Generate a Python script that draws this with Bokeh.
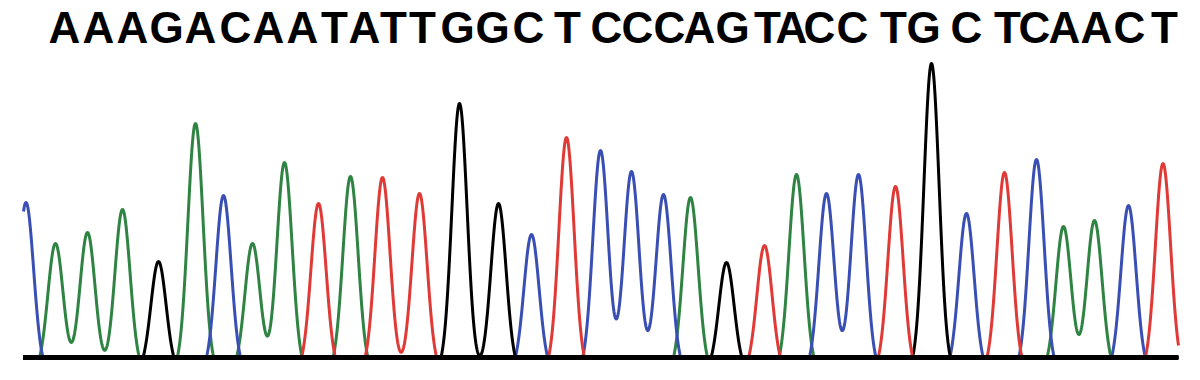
import numpy as np
from bokeh.plotting import figure
from bokeh.embed import file_html
from bokeh.resources import INLINE
from bokeh.core.properties import value

# ---- data: base calls (letters) and their positions along the read ----
calls = list("AAAGACAATATTGGCTCCCAGTACCTGCTCAACT")
call_pos = [64, 98, 132, 166, 200, 235, 268, 302, 334, 364, 393,
            422, 457, 492, 528, 567, 606, 637, 669, 699, 732, 767,
            791, 819, 852, 893, 923, 966, 1007, 1034, 1064, 1096, 1129, 1164]

# ---- data: chromatogram peaks per dye channel (position, height) ----
peak_A_pos = [55, 87, 122, 195, 252, 284, 350, 690, 796, 1063, 1094]
peak_A_h   = [114, 125, 148, 234, 114, 195, 181, 160, 183, 131, 137]

peak_C_pos = [25.5, 223, 531, 600, 631, 663, 826, 858, 966, 1036, 1128]
peak_C_h   = [155, 162, 123, 207, 186, 163, 164, 183, 144, 198, 152]

peak_G_pos = [158, 459, 498, 726, 931]
peak_G_h   = [96, 254, 154, 95, 294]

peak_T_pos = [318, 382, 419, 566, 764, 895, 1004, 1162.5]
peak_T_h   = [154, 180, 164, 220, 112, 171, 185, 194]

trace_start, trace_end = 23, 1178

channels = [
    (peak_A_pos, peak_A_h, "#2f8443"),
    (peak_C_pos, peak_C_h, "#3a4fb4"),
    (peak_G_pos, peak_G_h, "#000000"),
    (peak_T_pos, peak_T_h, "#e03a36"),
]

SIGMA = 7.6
OFFSET = 14.0

xs = np.arange(trace_start, trace_end + 0.25, 0.5)


def trace(pos, h):
    c = np.asarray(pos, float)
    target = np.asarray(h, float) + OFFSET
    G = np.exp(-((c[:, None] - c[None, :]) ** 2) / (2 * SIGMA ** 2))
    amp = np.linalg.solve(G, target)
    s = (amp[None, :] * np.exp(-((xs[:, None] - c[None, :]) ** 2) / (2 * SIGMA ** 2))).sum(axis=1)
    return np.clip(s - OFFSET, 0, None)


p = figure(width=1184, height=364, x_range=(0, 1184), y_range=(-7, 357),
           output_backend="svg", toolbar_location=None, min_border=0)
p.axis.visible = False
p.grid.visible = False
p.outline_line_color = None
p.background_fill_color = "white"

for pos, h, col in channels:
    p.line(xs, trace(pos, h), line_color=col, line_width=3, line_join="round")

p.line([xs[0] - 0.5, xs[-1]], [0, 0], line_color="black", line_width=5)

p.text(x=call_pos, y=[330] * len(calls), text=calls,
       text_font=value("Liberation Sans"), text_font_style="bold",
       text_font_size="44px", text_align="center", text_baseline="alphabetic",
       text_color="black")

open("out.html", "w").write(file_html(p, INLINE))
